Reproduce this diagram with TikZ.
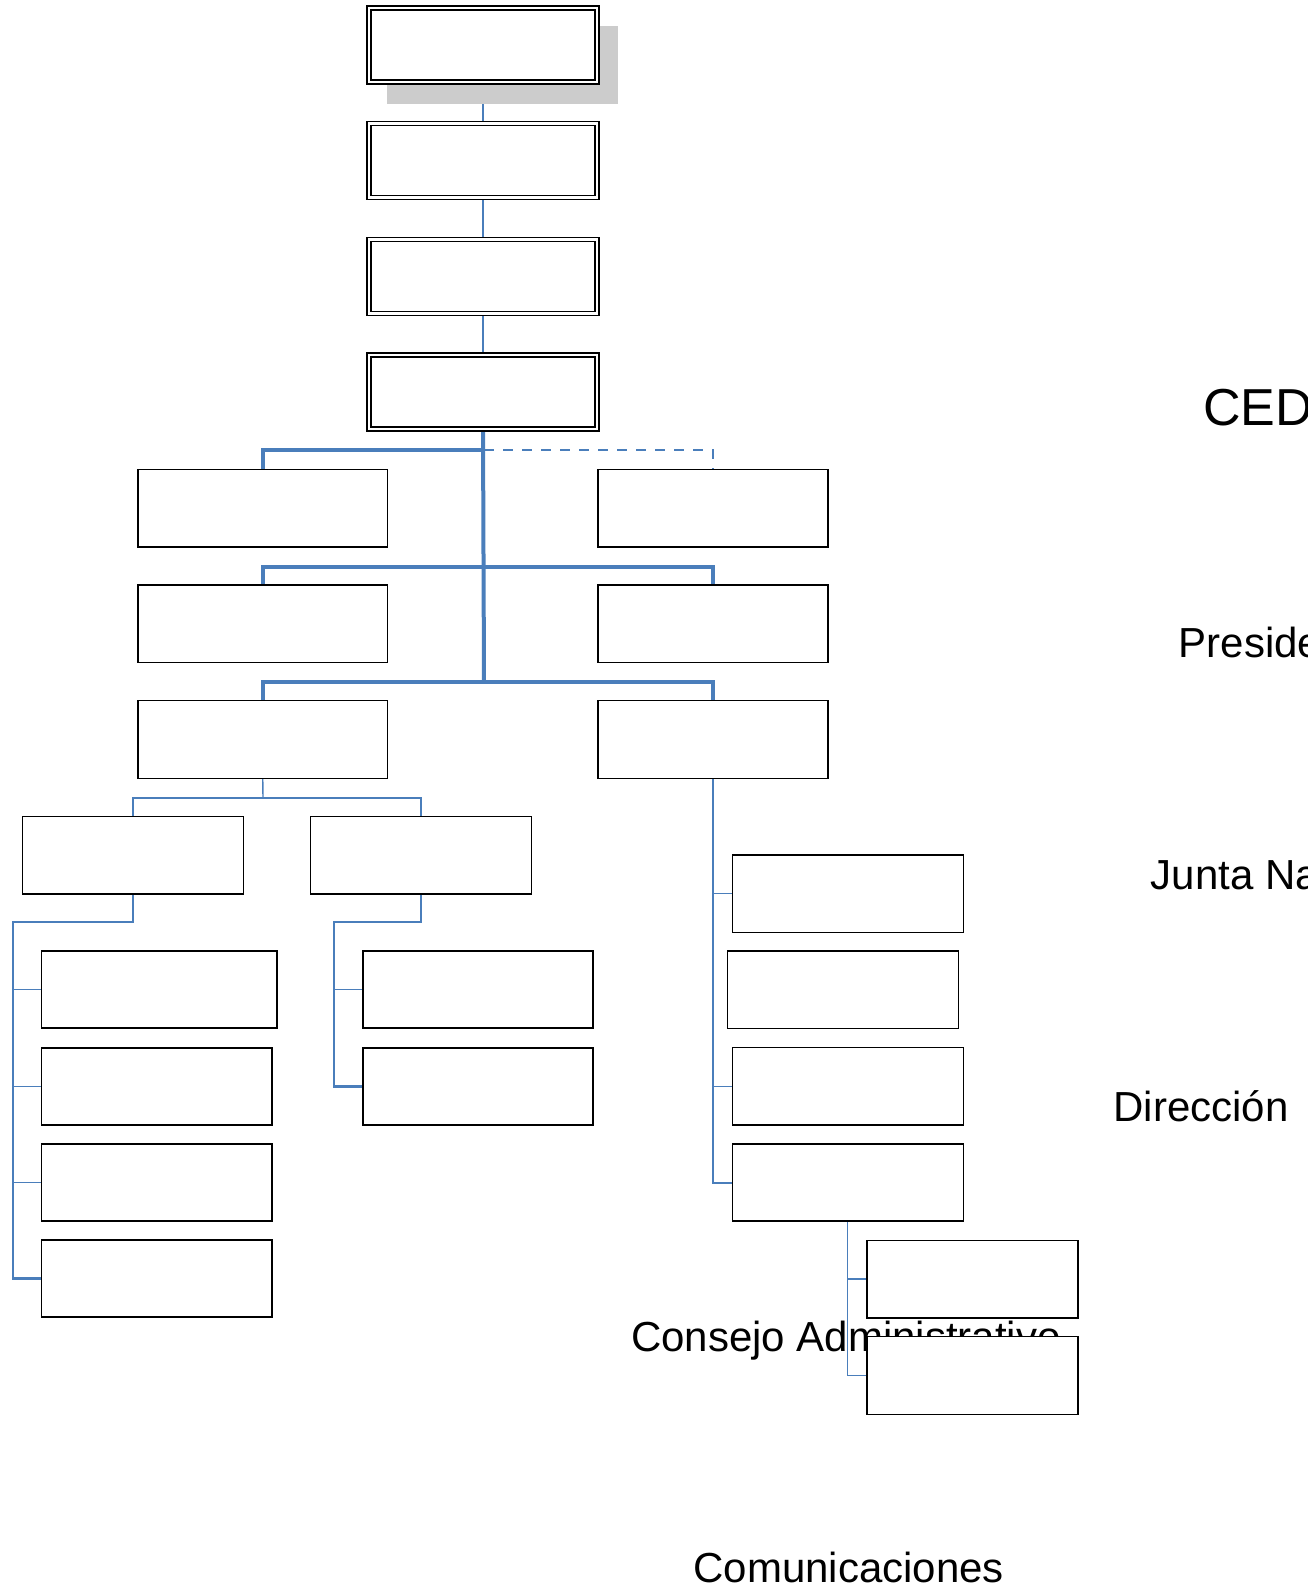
\documentclass[tikz,border=0pt]{standalone}
\usepackage{fontspec}
\setmainfont{Liberation Sans}
\usetikzlibrary{positioning}
\pgfdeclarelayer{background}
\pgfsetlayers{background,main}
\definecolor{orgblue}{RGB}{74,126,187}
\definecolor{shadowgray}{RGB}{204,204,204}

\begin{document}
\begin{tikzpicture}[x=0.5pt, y=-0.5pt, line join=round, line cap=round,
	box/.style={draw, fill=white, line width=0.7pt, line join=miter, inner sep=0pt, outer sep=0pt, anchor=north west, minimum height=38.75pt},
	topbox/.style={box, line width=0.65pt, double=white, double distance=1.35pt, minimum width=114pt, minimum height=37pt},
	link/.style={orgblue, line width=0.6pt},
	trunk/.style={orgblue, line width=1.2pt},
	spine/.style={orgblue, line width=2pt},
	orgtext/.style={anchor=base west, inner sep=0pt, font=\fontsize{21pt}{25pt}\selectfont}]
	\useasboundingbox (0,0) rectangle (1307,1590);

	% top column with shadow
	\node[box, draw=none, fill=shadowgray, minimum width=115.5pt, minimum height=39pt] (shd) at (387,26) {};
	\node[topbox] (t1) at (369,8) {};
	\foreach \i/\y in {2/123.7,3/239.3,4/355}
		\node[topbox] (t\i) at (369,\y) {};

	% three rows left / right
	\foreach \row/\y in {a/469.5,b/585,c/700.7}{
		\node[box, minimum width=124.75pt] (row\row1) at (138,\y) {};
		\node[box, minimum width=115pt] (row\row2) at (598,\y) {};
	}

	\node[box, minimum width=110.5pt] (dL) at (22.3,816.3) {};
	\node[box, minimum width=110.5pt] (dM) at (310.3,816.3) {};

	\node[box, minimum width=117.85pt, minimum height=38.5pt] (s1) at (41.3,951) {};
	\foreach \i/\y in {2/1048,3/1144,4/1240}
		\node[box, minimum width=115.35pt, minimum height=38.5pt] (s\i) at (41.3,\y) {};

	\node[box, minimum width=115pt, minimum height=38.5pt] (m1) at (363,951) {};
	\node[box, minimum width=115pt, minimum height=38.5pt] (m2) at (363,1048) {};

	\node[box, minimum width=115.5pt] (q1) at (732.3,855) {};
	\node[box, minimum width=115.25pt] (q2) at (727.7,951) {};
	\node[box, minimum width=115.5pt] (q3) at (732.3,1047.5) {};
	\node[box, minimum width=115.5pt, minimum height=38.5pt] (q4) at (732.3,1144) {};

	\node[box, minimum width=105.5pt] (u1) at (867,1240.3) {};
	\node[box, minimum width=105.5pt] (u2) at (867,1336.7) {};

	\begin{pgfonlayer}{background}
	\node[orgtext, font=\fontsize{26pt}{30pt}\selectfont] (ced) at (1203,425) {CED};
	\node[orgtext] (pres) at (1178.5,657) {Preside};
	\node[orgtext] (junta) at (1150.5,889.5) {Junta Na};
	\node[orgtext] (dir) at (1113,1121.7) {Dirección};
	\node[orgtext] (cons) at (630.6,1351.5) {Consejo Administrativo};
	\node[orgtext] (comu) at (693,1582) {Comunicaciones};

	\foreach \i/\j in {1/2,2/3,3/4}
		\draw[link] (t\i.south) -- (t\j.north);

	\coordinate (j1) at (484,450);
	\coordinate (j2) at (484,567);
	\coordinate (j3) at (484,682);
	\draw[spine] (t4.south) -- (j3);
	\draw[spine] (rowa1.north) |- (j1);
	\draw[spine] (rowb1.north) |- (j2) -| (rowb2.north);
	\draw[spine] (rowc1.north) |- (j3) -| (rowc2.north);
	\draw[link, line cap=butt, dash pattern=on 5pt off 4.5pt] (j1) -| (rowa2.north);

	\coordinate (k1) at (263,798);
	\draw[link, line width=0.7pt] (rowc1.south) -- (k1);
	\draw[link, line width=0.7pt] (dL.north) |- (k1) -| (dM.north);

	\coordinate (lb) at (13,922);
	\draw[trunk] (dL.south) |- (lb) |- (s4.west);
	\foreach \i in {1,2,3}
		\draw[link] (lb |- s\i.west) -- (s\i.west);

	\coordinate (mb) at (334,922);
	\draw[trunk] (dM.south) |- (mb) |- (m2.west);
	\draw[link] (mb |- m1.west) -- (m1.west);

	\draw[trunk, line width=1pt] (rowc2.south) |- (q4.west);
	\foreach \i in {1,3}
		\draw[link] (rowc2.south |- q\i.west) -- (q\i.west);

	\draw[link] (q4.south) |- (u2.west);
	\draw[link] (q4.south |- u1.west) -- (u1.west);
	\end{pgfonlayer}
\end{tikzpicture}
\end{document}
